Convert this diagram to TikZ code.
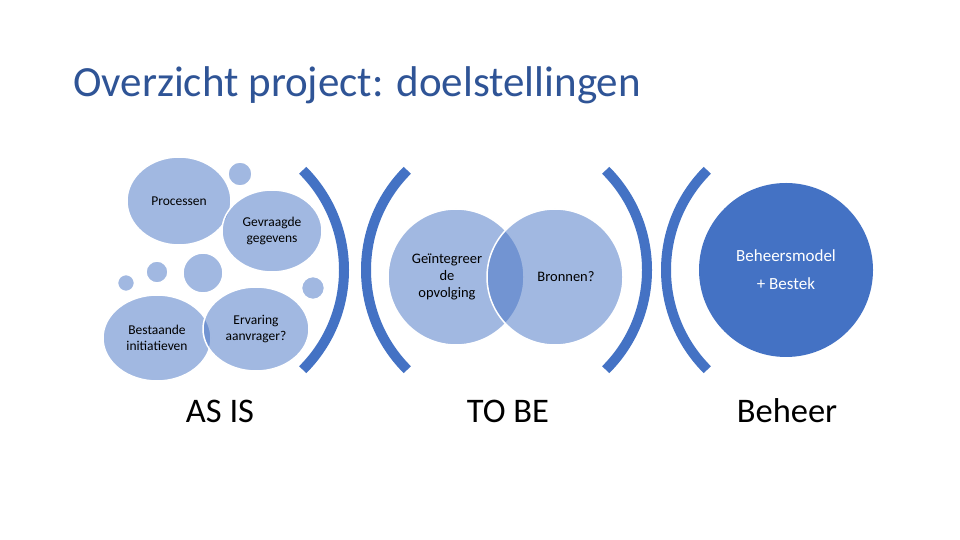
\documentclass[tikz,border=0pt]{standalone}
\usepackage{fontspec}
\setmainfont{Carlito}
\usetikzlibrary{shapes.geometric}

\definecolor{accent}{HTML}{4472C4}
\definecolor{titleblue}{HTML}{2F5496}

\tikzset{
  bubble/.style={fill=accent, fill opacity=0.5, draw=white, draw opacity=1,
    line width=1.5pt, text opacity=1, inner sep=0pt},
  bracket/.style={draw=accent, line width=10pt, line cap=butt},
  smalltxt/.style={align=center, font=\fontsize{13.5}{15.5}\selectfont},
  venntxt/.style={align=center, font=\fontsize{14.5}{17}\selectfont},
  phase/.style={anchor=base, font=\fontsize{34.5}{40}\selectfont}
}

\begin{document}
\begin{tikzpicture}[x=1pt, y=1pt]
  \useasboundingbox[fill=white] (0,0) rectangle (960,540);

  % titel
  \node[anchor=base west, text=titleblue, inner sep=0pt,
        font=\fontsize{43}{50}\selectfont] (titel) at (73,443)
    {Overzicht project: doelstellingen};

  % AS IS: bellen
  \node[bubble, ellipse, minimum width=104, minimum height=88, smalltxt]
    (proc) at (179,339) {Processen};
  \node[bubble, ellipse, minimum width=100, minimum height=82, smalltxt]
    (gevr) at (272,309) {Gevraagde\\gegevens};
  \node[bubble, circle, minimum size=24] (b1) at (240,366) {};
  \node[bubble, circle, minimum size=17] (b2) at (126,257) {};
  \node[bubble, circle, minimum size=22] (b3) at (157,268) {};
  \node[bubble, circle, minimum size=40] (b4) at (203,267) {};
  \node[bubble, circle, minimum size=23] (b5) at (313,252) {};
  \node[bubble, ellipse, minimum width=108, minimum height=86, smalltxt]
    (best) at (157,202) {Bestaande\\initiatieven};
  \node[bubble, ellipse, minimum width=106, minimum height=84, smalltxt]
    (erv) at (256,211) {Ervaring\\aanvrager?};

  % haakjes
  \coordinate (asis) at (203,270);
  \coordinate (tobe) at (507,270);
  \coordinate (tobe2) at (506,270);
  \coordinate (beh) at (807,270);
  \draw[bracket] ([shift={(-45:141)}]asis) arc (-45:45:141);
  \draw[bracket] ([shift={(135:141)}]tobe) arc (135:225:141);
  \draw[bracket] ([shift={(-45:141)}]tobe2) arc (-45:45:141);
  \draw[bracket] ([shift={(135:141)}]beh) arc (135:225:141);

  % TO BE: venn
  \node[bubble, circle, minimum size=136] (integr) at (456,263) {};
  \node[bubble, circle, minimum size=136] (bron) at (555,263) {};
  \node[venntxt] (integrtxt) at ([xshift=-9]integr.center)
    {Geïntegreer\\de\\opvolging};
  \node[venntxt] (brontxt) at ([xshift=11]bron.center) {Bronnen?};

  % Beheer
  \node[circle, fill=accent, minimum size=174, inner sep=0pt, text=white,
        align=center, font=\fontsize{17}{28}\selectfont]
    (model) at (786,270) {Beheersmodel\\+ Bestek};

  % fasen
  \node[phase] (lasis) at (220,117) {AS IS};
  \node[phase] (ltobe) at (508,117) {TO BE};
  \node[phase] (lbeh) at (787,117) {Beheer};
\end{tikzpicture}
\end{document}
